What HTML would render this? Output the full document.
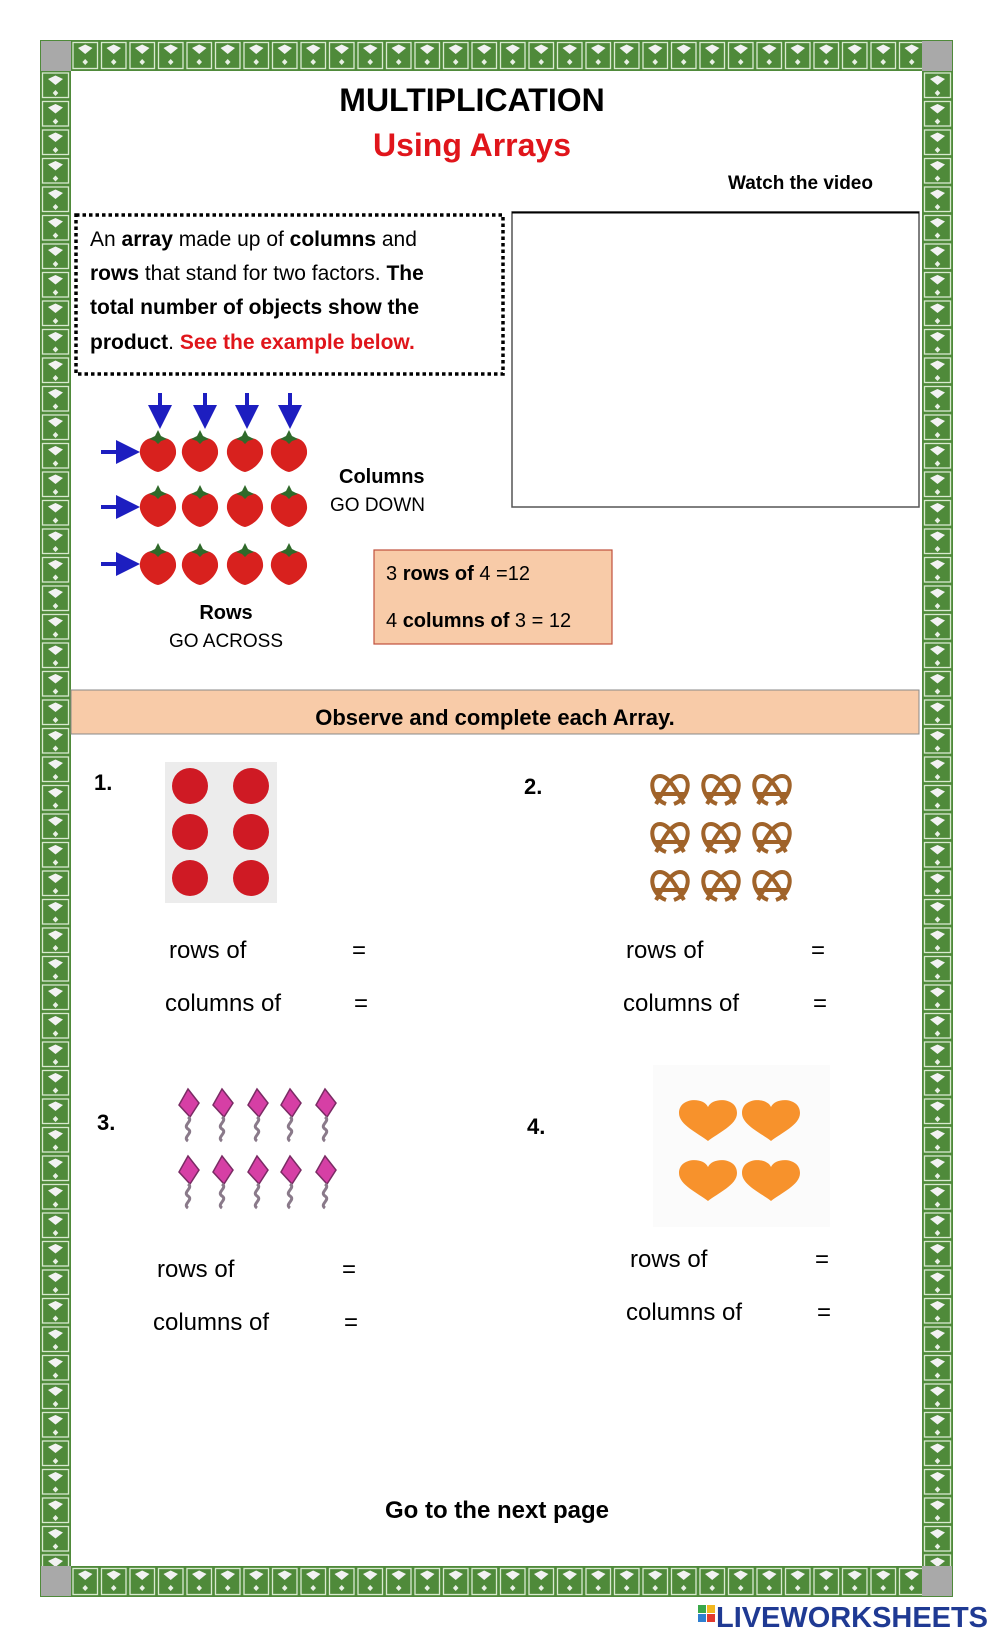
<!DOCTYPE html>
<html><head><meta charset="utf-8"><style>
html,body{margin:0;padding:0;background:#fff;}
body{width:1000px;height:1643px;position:relative;overflow:hidden;font-family:"Liberation Sans",sans-serif;}
svg{position:absolute;left:0;top:0;}
</style></head><body>
<svg width="1000" height="1643" viewBox="0 0 1000 1643" xmlns="http://www.w3.org/2000/svg" font-family="Liberation Sans, sans-serif">
<defs>
<g id="tileh">
<rect width="28.5" height="31" fill="#4f8a3a"/>
<rect x="2" y="2.5" width="24.5" height="26" fill="none" stroke="#d9ead0" stroke-width="1.3"/>
<path d="M7 8 L14.2 4.5 L21.5 8 L14.2 14 Z" fill="#f2f2f2"/>
<path d="M14.2 19 L17 22 L14.2 25 L11.4 22 Z" fill="#e8f0e4"/>
</g>
<g id="tilev">
<rect width="31" height="28.5" fill="#4f8a3a"/>
<rect x="2.5" y="2" width="26" height="24.5" fill="none" stroke="#d9ead0" stroke-width="1.3"/>
<path d="M8 8 L15.5 4.5 L23 8 L15.5 14 Z" fill="#f2f2f2"/>
<path d="M15.5 19 L18.3 22 L15.5 25 L12.7 22 Z" fill="#e8f0e4"/>
</g>
<pattern id="th1" x="71" y="40" width="28.5" height="31" patternUnits="userSpaceOnUse"><use href="#tileh"/></pattern>
<pattern id="th2" x="71" y="1566" width="28.5" height="31" patternUnits="userSpaceOnUse"><use href="#tileh"/></pattern>
<pattern id="tv1" x="40" y="71" width="31" height="28.5" patternUnits="userSpaceOnUse"><use href="#tilev"/></pattern>
<pattern id="tv2" x="922" y="71" width="31" height="28.5" patternUnits="userSpaceOnUse"><use href="#tilev"/></pattern>
<g id="straw">
<path d="M0 -14 C12 -16 19 -8 18 2 C16 12 6 19 0 20 C-6 19 -16 12 -18 2 C-19 -8 -12 -16 0 -14Z" fill="#d8211e"/>
<path d="M-9 -13 L-3 -16 L0 -22 L3 -16 L9 -13 L3 -11 L0 -8 L-3 -11Z" fill="#2f6a2a"/>
</g>
<g id="heart"><path d="M0 -10 C-4 -20 -29 -20 -29 -4 C-29 8 -10 16 0 24 C10 16 29 8 29 -4 C29 -20 4 -20 0 -10Z" fill="#f7922c"/></g>
<g id="pretz" fill="none" stroke="#a0632a" stroke-width="4"><path d="M-4 14 C-20 8 -22 -14 -10 -14 C0 -14 8 4 14 14 M4 14 C20 8 22 -14 10 -14 C0 -14 -8 4 -14 14 M-16 4 L16 4"/></g>
<g id="kite"><path d="M0 -14 L11 0 L2 14 L-9 2Z" fill="#d63fa5" stroke="#7a2b64" stroke-width="1.5"/><path d="M0 14 C6 18 -6 22 0 26 C6 30 -6 34 0 38" fill="none" stroke="#8a7a8a" stroke-width="3"/></g>
<marker id="ah" markerWidth="6" markerHeight="6" refX="3" refY="3" orient="auto"><path d="M0 0 L6 3 L0 6Z" fill="#1d1ec0"/></marker>
</defs>
<!-- border -->
<rect x="71" y="40" width="851" height="31" fill="url(#th1)"/>
<rect x="71" y="1566" width="851" height="31" fill="url(#th2)"/>
<rect x="40" y="71" width="31" height="1495" fill="url(#tv1)"/>
<rect x="922" y="71" width="31" height="1495" fill="url(#tv2)"/>
<g fill="#a9a9a9"><rect x="40" y="40" width="31" height="31"/><rect x="922" y="40" width="31" height="31"/><rect x="40" y="1566" width="31" height="31"/><rect x="922" y="1566" width="31" height="31"/></g>
<rect x="40.5" y="40.5" width="912" height="1556" fill="none" stroke="#4f8a3a" stroke-width="1"/>

<text x="472" y="111" text-anchor="middle" font-size="32" font-weight="bold" fill="#000">MULTIPLICATION</text>
<text x="472" y="156" text-anchor="middle" font-size="32" font-weight="bold" fill="#e0151b">Using Arrays</text>
<text x="728" y="189" font-size="19" font-weight="bold">Watch the video</text>

<rect x="76" y="215" width="427" height="159" fill="none" stroke="#000" stroke-width="3.5" stroke-dasharray="3.5 3"/>
<g font-size="21">
<text x="90" y="246">An <tspan font-weight="bold">array</tspan> made up of <tspan font-weight="bold">columns</tspan> and</text>
<text x="90" y="280"><tspan font-weight="bold">rows</tspan> that stand for two factors. <tspan font-weight="bold">The</tspan></text>
<text x="90" y="314" font-weight="bold">total number of objects show the</text>
<text x="90" y="349"><tspan font-weight="bold">product</tspan>.  <tspan fill="#e0151b" font-weight="bold">See the example below.</tspan></text>
</g>
<rect x="512" y="212" width="407" height="295" fill="none" stroke="#555" stroke-width="1.5"/>
<line x1="512" y1="212.5" x2="919" y2="212.5" stroke="#000" stroke-width="2"/>

<g stroke="#1d1ec0" stroke-width="4" marker-end="url(#ah)">
<line x1="160" y1="393" x2="160" y2="417"/><line x1="205" y1="393" x2="205" y2="417"/><line x1="247" y1="393" x2="247" y2="417"/><line x1="290" y1="393" x2="290" y2="417"/>
<line x1="101" y1="452" x2="128" y2="452"/><line x1="101" y1="507" x2="128" y2="507"/><line x1="101" y1="564" x2="128" y2="564"/>
</g>
<g>
<use href="#straw" x="158" y="452"/><use href="#straw" x="200" y="452"/><use href="#straw" x="245" y="452"/><use href="#straw" x="289" y="452"/>
<use href="#straw" x="158" y="507"/><use href="#straw" x="200" y="507"/><use href="#straw" x="245" y="507"/><use href="#straw" x="289" y="507"/>
<use href="#straw" x="158" y="565"/><use href="#straw" x="200" y="565"/><use href="#straw" x="245" y="565"/><use href="#straw" x="289" y="565"/>
</g>
<text x="339" y="483" font-size="20" font-weight="bold">Columns</text>
<text x="330" y="511" font-size="19">GO DOWN</text>
<text x="226" y="619" text-anchor="middle" font-size="20" font-weight="bold">Rows</text>
<text x="226" y="647" text-anchor="middle" font-size="19">GO ACROSS</text>

<rect x="374" y="550" width="238" height="94" fill="#f8cba8" stroke="#c0503c" stroke-width="1.2"/>
<text x="386" y="580" font-size="20">3 <tspan font-weight="bold">rows of</tspan> 4 =12</text>
<text x="386" y="627" font-size="20">4 <tspan font-weight="bold">columns of</tspan> 3 = 12</text>

<rect x="71" y="690" width="848" height="44" fill="#f8cba8" stroke="#888" stroke-width="1"/>
<text x="495" y="725" text-anchor="middle" font-size="22" font-weight="bold">Observe and complete each Array.</text>

<text x="94" y="790" font-size="22" font-weight="bold">1.</text>
<rect x="165" y="762" width="112" height="141" fill="#ececec"/>
<g fill="#cf1a24"><circle cx="190" cy="786" r="18"/><circle cx="251" cy="786" r="18"/><circle cx="190" cy="832" r="18"/><circle cx="251" cy="832" r="18"/><circle cx="190" cy="878" r="18"/><circle cx="251" cy="878" r="18"/></g>
<g font-size="24">
<text x="169" y="958">rows of</text><text x="352" y="958">=</text>
<text x="165" y="1011">columns of</text><text x="354" y="1011">=</text>
</g>
<text x="524" y="794" font-size="22" font-weight="bold">2.</text>
<g>
<use href="#pretz" x="670" y="790"/><use href="#pretz" x="721" y="790"/><use href="#pretz" x="772" y="790"/>
<use href="#pretz" x="670" y="838"/><use href="#pretz" x="721" y="838"/><use href="#pretz" x="772" y="838"/>
<use href="#pretz" x="670" y="886"/><use href="#pretz" x="721" y="886"/><use href="#pretz" x="772" y="886"/>
</g>
<g font-size="24">
<text x="626" y="958">rows of</text><text x="811" y="958">=</text>
<text x="623" y="1011">columns of</text><text x="813" y="1011">=</text>
</g>
<text x="97" y="1130" font-size="22" font-weight="bold">3.</text>
<g>
<use href="#kite" x="188" y="1103"/><use href="#kite" x="222" y="1103"/><use href="#kite" x="257" y="1103"/><use href="#kite" x="290" y="1103"/><use href="#kite" x="325" y="1103"/>
<use href="#kite" x="188" y="1170"/><use href="#kite" x="222" y="1170"/><use href="#kite" x="257" y="1170"/><use href="#kite" x="290" y="1170"/><use href="#kite" x="325" y="1170"/>
</g>
<g font-size="24">
<text x="157" y="1277">rows of</text><text x="342" y="1277">=</text>
<text x="153" y="1330">columns of</text><text x="344" y="1330">=</text>
</g>
<text x="527" y="1134" font-size="22" font-weight="bold">4.</text>
<rect x="653" y="1065" width="177" height="162" fill="#fbfbfb"/>
<use href="#heart" x="708" y="1117"/><use href="#heart" x="771" y="1117"/>
<use href="#heart" x="708" y="1177"/><use href="#heart" x="771" y="1177"/>
<g font-size="24">
<text x="630" y="1267">rows of</text><text x="815" y="1267">=</text>
<text x="626" y="1320">columns of</text><text x="817" y="1320">=</text>
</g>

<text x="497" y="1518" text-anchor="middle" font-size="24" font-weight="bold">Go to the next page</text>

<g>
<rect x="698" y="1605" width="8" height="8" fill="#3aa84a"/><rect x="707" y="1605" width="8" height="8" fill="#f2b71f"/>
<rect x="698" y="1614" width="8" height="8" fill="#2f7fd0"/><rect x="707" y="1614" width="8" height="8" fill="#e33a2e"/>
<text x="716" y="1627" font-size="29" font-weight="bold" fill="#1f3a93" textLength="272" lengthAdjust="spacingAndGlyphs">LIVEWORKSHEETS</text>
</g>
</svg>
</body></html>
